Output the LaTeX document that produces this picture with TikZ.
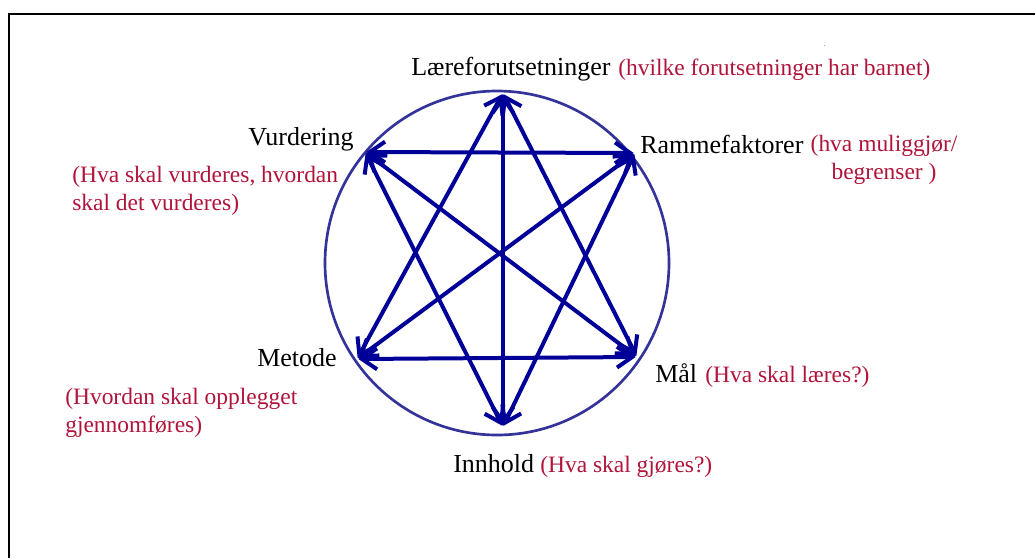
\documentclass[tikz,border=0pt]{standalone}
\usepackage{fontspec}
\setmainfont{Liberation Serif}
\usepackage{tikz}
\usetikzlibrary{arrows.meta}
\definecolor{ink}{gray}{0.0}
\definecolor{rim}{RGB}{51,51,153}
\definecolor{navy}{RGB}{0,0,153}
\definecolor{note}{RGB}{176,20,58}
\tikzset{
  head/.style={font=\fontsize{19.5}{23}\selectfont, text=ink, inner sep=0pt},
  hint/.style={font=\fontsize{17.6}{21}\selectfont, text=note, inner sep=0pt},
  link/.style={{Straight Barb[length=4mm,width=5.5mm,line width=3pt]}-{Straight Barb[length=4mm,width=5.5mm,line width=3pt]},
               draw=navy, line width=3pt, shorten <=1pt, shorten >=1pt},
}

\begin{document}
\begin{tikzpicture}[x=0.75pt, y=-0.75pt]
        \useasboundingbox (0,0) rectangle (1035,558);
        \draw[ink, line width=2pt] (1035,14) -- (9,14) -- (9,558);
        % circle and star points
        \coordinate (mid) at (497,263);
        \draw[rim, line width=2pt] (mid) circle [radius=129pt];
        \coordinate (lf) at (503,93);
        \coordinate (rf) at (635,153);
        \coordinate (ml) at (637,357);
        \coordinate (ih) at (503,427);
        \coordinate (mt) at (357,359);
        \coordinate (vd) at (365,152);
        % two triangles
        \draw[link] (lf) -- (mt); \draw[link] (lf) -- (ml); \draw[link] (mt) -- (ml);
        \draw[link] (ih) -- (vd); \draw[link] (ih) -- (rf); \draw[link] (vd) -- (rf);
        % diameters
        \draw[link] (lf) -- (ih); \draw[link] (vd) -- (ml); \draw[link] (rf) -- (mt);
        % labels
        \node[head, anchor=base west] (lft) at (411,75) {Læreforutsetninger};
        \node[hint, anchor=base west] (lfn) at (618,75) {(hvilke forutsetninger har barnet)};
        \node[font=\tiny, inner sep=0pt] (dot) at (825,46) {.};
        \node[head, anchor=base west] (vdt) at (248,145) {Vurdering};
        \node[hint, anchor=north west, align=left] (vdn) at (72,166) {(Hva skal vurderes, hvordan\\skal det vurderes)};
        \node[head, anchor=base west] (rft) at (640,153) {Rammefaktorer};
        \node[hint, anchor=north, align=center] (rfn) at (884,135) {(hva muliggjør/\\begrenser )};
        \node[head, anchor=base west] (mtt) at (257,366) {Metode};
        \node[hint, anchor=north west, align=left] (mtn) at (65,388) {(Hvordan skal opplegget\\gjennomføres)};
        \node[head, anchor=base west] (mlt) at (655,382) {Mål};
        \node[hint, anchor=base west] (mln) at (705,382) {(Hva skal læres?)};
        \node[head, anchor=base west] (iht) at (453,472) {Innhold};
        \node[hint, anchor=base west] (ihn) at (540,472) {(Hva skal gjøres?)};
      \end{tikzpicture}
\end{document}
